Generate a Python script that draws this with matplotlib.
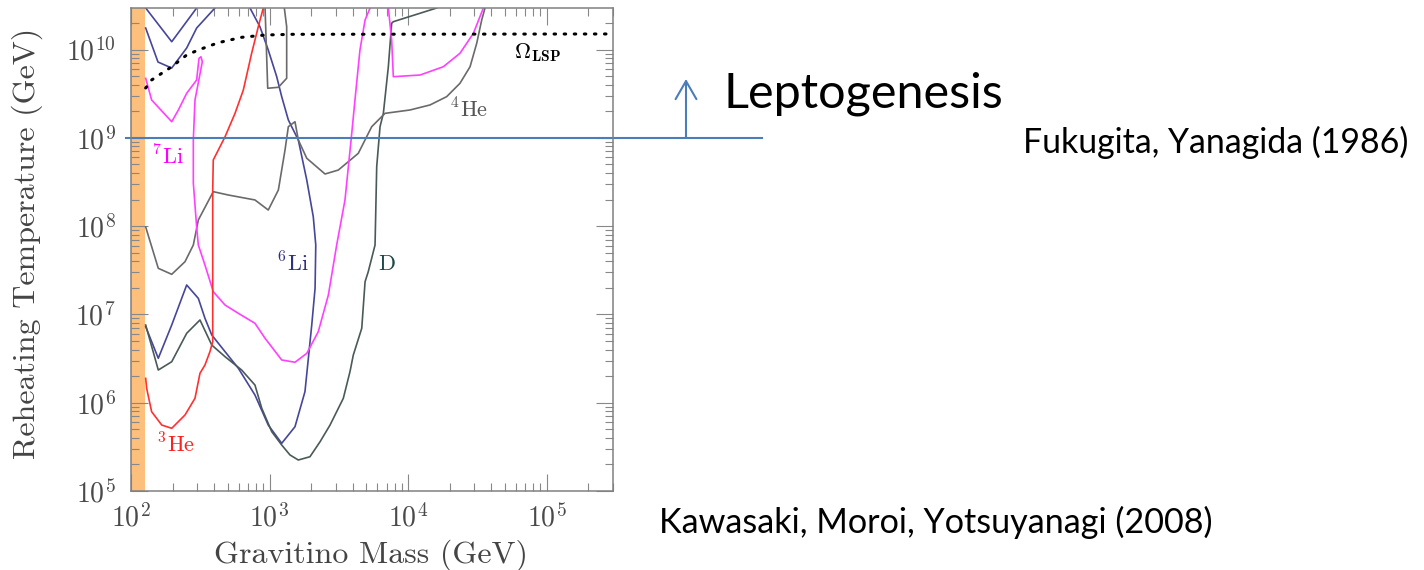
import numpy as np
import matplotlib as mpl
mpl.use('Agg')
import matplotlib.pyplot as plt
from matplotlib.ticker import LogLocator, LogFormatterMathtext, NullFormatter

# all values are log10 of the gravitino mass (GeV) and of T_R (GeV)
he3_m = [2.106, 2.113, 2.149, 2.222, 2.294, 2.390, 2.462, 2.498, 2.534, 2.570,
         2.590, 2.590, 2.594, 2.679, 2.751, 2.811, 2.871, 2.919, 2.955]
he3_T = [6.276, 6.163, 5.898, 5.747, 5.710, 5.861, 6.050, 6.333, 6.427, 6.578,
         6.691, 8.409, 8.749, 9.012, 9.277, 9.541, 9.957, 10.258, 10.47]

li7_m = [2.106, 2.149, 2.294, 2.342, 2.402, 2.474, 2.491, 2.505, 2.515, 2.462, 2.450,
         2.450, 2.474, 2.486, 2.534, 2.594, 2.679, 2.775, 2.895, 2.968, 3.088, 3.184,
         3.269, 3.352, 3.425, 3.485, 3.545, 3.594, 3.617, 3.653, 3.690, 3.726]
li7_T = [9.674, 9.428, 9.182, 9.315, 9.504, 9.655, 9.900, 9.918, 9.862, 9.428, 8.975,
         8.488, 7.990, 7.786, 7.559, 7.257, 7.106, 7.012, 6.899, 6.729, 6.484, 6.458,
         6.559, 6.804, 7.220, 7.786, 8.296, 9.054, 9.428, 9.994, 10.334, 10.47]
li7_hi_m = [3.858, 3.882, 3.894, 4.087, 4.255, 4.375, 4.472, 4.544]
li7_hi_T = [10.47, 10.108, 9.692, 9.711, 9.805, 9.957, 10.183, 10.47]

li6_m = [2.106, 2.197, 2.294, 2.402, 2.486, 2.534, 2.583, 2.679, 2.775, 2.895, 2.991,
         3.088, 3.184, 3.256, 3.305, 3.329, 3.334, 3.316, 3.269, 3.208, 3.136, 3.088,
         3.052, 2.991, 2.931, 2.859]
li6_T = [6.861, 6.503, 6.880, 7.333, 7.182, 6.956, 6.767, 6.578, 6.390, 6.087, 5.747,
         5.540, 5.728, 6.125, 6.880, 7.296, 7.786, 8.106, 8.522, 8.975, 9.202, 9.466,
         9.692, 9.994, 10.258, 10.47]
li6_a_m = [2.106, 2.294, 2.474]
li6_a_T = [10.47, 10.088, 10.47]
li6_b_m = [2.106, 2.195, 2.294, 2.402, 2.474, 2.606]
li6_b_T = [10.243, 9.858, 9.790, 10.017, 10.243, 10.47]

d_m = [2.106, 2.197, 2.294, 2.402, 2.498, 2.583, 2.679, 2.799, 2.895, 2.944, 3.016,
       3.088, 3.148, 3.208, 3.292, 3.365, 3.437, 3.533, 3.581, 3.605, 3.666, 3.690,
       3.713, 3.762, 3.774, 3.798, 3.822, 3.858, 3.882, 3.894, 4.207]
d_T = [6.880, 6.370, 6.464, 6.786, 6.937, 6.653, 6.521, 6.370, 6.200, 5.937, 5.672,
       5.521, 5.408, 5.351, 5.388, 5.558, 5.747, 6.050, 6.351, 6.540, 6.843, 7.370,
       7.484, 7.786, 8.673, 9.126, 9.277, 9.805, 10.297, 10.315, 10.47]

he4_m = [2.106, 2.197, 2.294, 2.390, 2.450, 2.486, 2.594, 2.703, 2.895, 2.991, 3.064,
         3.112, 3.136, 3.184, 3.208, 3.269, 3.401, 3.497, 3.641, 3.738, 3.834, 4.014,
         4.159, 4.279, 4.375, 4.448, 4.496, 4.532, 4.556]
he4_T = [7.990, 7.522, 7.454, 7.597, 7.786, 8.069, 8.390, 8.352, 8.296, 8.182, 8.409,
         8.862, 9.126, 9.182, 8.975, 8.768, 8.590, 8.635, 8.824, 9.126, 9.277, 9.315,
         9.372, 9.466, 9.617, 9.805, 10.070, 10.334, 10.47]
he4_loop_m = [2.968, 2.987, 3.064, 3.124, 3.124, 3.107]
he4_loop_T = [10.47, 9.561, 9.572, 9.674, 10.258, 10.47]

omega_m = [2.106, 2.149, 2.294, 2.402, 2.486, 2.630, 2.799, 2.968, 3.160, 5.435]
omega_T = [9.564, 9.655, 9.805, 9.938, 9.994, 10.077, 10.138, 10.164, 10.172, 10.176]

lsp_band = [100, 126]          # shaded gravitino-mass band (GeV)
lepto_T = 1e9                  # leptogenesis bound

plt.rcParams['font.family'] = ['cmr10', 'DejaVu Serif']
plt.rcParams['mathtext.fontset'] = 'cm'
plt.rcParams['axes.formatter.use_mathtext'] = True

W, H = 1424, 570
fig = plt.figure(figsize=(W / 100, H / 100), dpi=100)
ax = fig.add_axes([131 / W, 1 - 491 / H, 482 / W, 483 / H])

def p(m, t):
    return 10 ** np.asarray(m), 10 ** np.asarray(t)

ax.axvspan(*lsp_band, color='#fcbf7c', lw=0, zorder=0)
lw = 1.2
ax.plot(*p(li6_a_m, li6_a_T), color='#46469a', lw=lw)
ax.plot(*p(li6_b_m, li6_b_T), color='#46469a', lw=lw)
ax.plot(*p(li6_m, li6_T), color='#46469a', lw=lw)
ax.plot(*p(d_m, d_T), color='#4a5a58', lw=lw)
ax.plot(*p(he4_m, he4_T), color='#6a6a6a', lw=lw)
ax.plot(*p(he4_loop_m, he4_loop_T), color='#6a6a6a', lw=lw)
ax.plot(*p(li7_m, li7_T), color='#ff40ff', lw=lw)
ax.plot(*p(li7_hi_m, li7_hi_T), color='#ff40ff', lw=lw)
ax.plot(*p(he3_m, he3_T), color='#ff3030', lw=lw)
ax.plot(*p(omega_m, omega_T), color='black', lw=2.2, ls=(0, (0.5, 2.8)),
        dash_capstyle='round')

lab = dict(ha='center', va='center', fontsize=16)
ax.text(10 ** 2.267, 10 ** 8.783, r'$^{7}$Li', color='#ff00ff', **lab)
ax.text(10 ** 2.325, 10 ** 5.521, r'$^{3}$He', color='#ff2020', **lab)
ax.text(10 ** 3.170, 10 ** 7.571, r'$^{6}$Li', color='#303080', **lab)
ax.text(10 ** 3.848, 10 ** 7.571, 'D', color='#204848', **lab)
ax.text(10 ** 4.440, 10 ** 9.315, r'$^{4}$He', color='#555555', **lab)
ax.text(10 ** 4.931, 10 ** 9.960, r'$\Omega_{\mathbf{LSP}}$', color='black', **lab)

ax.set_xscale('log')
ax.set_yscale('log')
ax.set_xlim(100, 10 ** 5.48)
ax.set_ylim(1e5, 10 ** 10.47)
ax.xaxis.set_major_locator(LogLocator(base=10, numticks=10))
ax.yaxis.set_major_locator(LogLocator(base=10, numticks=10))
ax.xaxis.set_minor_locator(LogLocator(base=10, subs=np.arange(2, 10), numticks=20))
ax.yaxis.set_minor_locator(LogLocator(base=10, subs=np.arange(2, 10), numticks=20))
ax.xaxis.set_major_formatter(LogFormatterMathtext())
ax.yaxis.set_major_formatter(LogFormatterMathtext())
ax.xaxis.set_minor_formatter(NullFormatter())
ax.yaxis.set_minor_formatter(NullFormatter())
ax.tick_params(which='both', direction='in', top=True, right=True,
               color='#888888', width=0.8, labelcolor='#4a4a4a', labelsize=20)
ax.tick_params(which='major', length=12)
ax.tick_params(which='minor', length=6)
ax.tick_params(axis='x', pad=9)
ax.tick_params(axis='y', pad=11)
for s in ax.spines.values():
    s.set_color('#808080')
    s.set_linewidth(1.1)

ax.set_xlabel('Gravitino Mass (GeV)', fontsize=23, color='#444444')
ax.set_ylabel('Reheating Temperature (GeV)', fontsize=23, color='#444444')
ax.xaxis.label.set_va('center')
ax.yaxis.label.set_va('center')
ax.xaxis.set_label_coords(0.497, -0.134)
ax.yaxis.set_label_coords(-0.216, 0.513)

# leptogenesis line and arrow
ax.axhline(lepto_T, xmin=-0.0104, xmax=1.309, color='#4a7ebb', lw=1.5, clip_on=False)
ax.annotate('', xy=(686, H - 79), xytext=(686, H - 138), xycoords='figure pixels',
            textcoords='figure pixels',
            arrowprops=dict(arrowstyle='->,head_length=1.3,head_width=0.75',
                            color='#4a7ebb', lw=1.5, shrinkA=0, shrinkB=0))

sans = ['Lato', 'DejaVu Sans']
fig.text(723 / W, 1 - 108 / H, 'Leptogenesis', fontsize=35, family=sans,
         ha='left', va='baseline')
fig.text(1023 / W, 1 - 153 / H, 'Fukugita, Yanagida (1986)', fontsize=24.4,
         family=sans, ha='left', va='baseline')
fig.text(659 / W, 1 - 533 / H, 'Kawasaki, Moroi, Yotsuyanagi (2008)', fontsize=24.6,
         family=sans, ha='left', va='baseline')

fig.savefig('out.png', dpi=100)
